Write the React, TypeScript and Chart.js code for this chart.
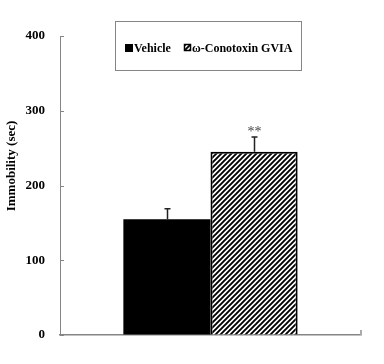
import React, { useEffect, useRef } from "react";
import { Chart, registerables } from "chart.js";

Chart.register(...registerables);

const categories = [""];
const seriesLabels = ["Vehicle", "ω-Conotoxin GVIA"];
const vehicleValues = [155];
const conotoxinValues = [245];
const errorValues = [14, 20];
const significance = ["", "**"];
const yTicks = [0, 100, 200, 300, 400];
const yTitle = "Immobility (sec)";

const FONT = "'Liberation Serif', 'Times New Roman', serif";
const AXIS = "#858585";

function makeHatch(): CanvasPattern | string {
  const s = 5;
  const c = document.createElement("canvas");
  c.width = s;
  c.height = s;
  const g = c.getContext("2d");
  if (!g) return "#fff";
  g.fillStyle = "#fff";
  g.fillRect(0, 0, s, s);
  g.strokeStyle = "#000";
  g.lineWidth = 1.9;
  g.beginPath();
  g.moveTo(-1, s + 1);
  g.lineTo(s + 1, -1);
  g.moveTo(-1, 1);
  g.lineTo(1, -1);
  g.moveTo(s - 1, s + 1);
  g.lineTo(s + 1, s - 1);
  g.stroke();
  const p = g.createPattern(c, "repeat");
  return p || "#fff";
}

export default function App() {
  const ref = useRef<HTMLCanvasElement>(null);

  useEffect(() => {
    if (!ref.current) return;
    const hatch = makeHatch();

    const decor = {
      id: "decor",
      afterDatasetsDraw(chart: any) {
        const ctx = chart.ctx;
        const y = chart.scales.y;
        const area = chart.chartArea;
        ctx.save();
        // inward y ticks
        ctx.strokeStyle = AXIS;
        ctx.lineWidth = 1;
        yTicks.forEach((v) => {
          const py = Math.round(y.getPixelForValue(v)) + 0.5;
          ctx.beginPath();
          ctx.moveTo(area.left, py);
          ctx.lineTo(area.left + 4, py);
          ctx.stroke();
        });
        // right end tick on x axis
        ctx.strokeStyle = "#aaa";
        ctx.lineWidth = 2;
        ctx.beginPath();
        ctx.moveTo(area.right, area.bottom);
        ctx.lineTo(area.right, area.bottom - 5);
        ctx.stroke();

        // error bars and significance
        chart.data.datasets.forEach((ds: any, i: number) => {
          const meta = chart.getDatasetMeta(i);
          meta.data.forEach((bar: any, j: number) => {
            const val = ds.data[j];
            const top = y.getPixelForValue(val);
            const et = y.getPixelForValue(val + errorValues[i]);
            const cx = Math.round(bar.x) + 0.5;
            ctx.strokeStyle = "#222";
            ctx.lineWidth = 1.5;
            ctx.beginPath();
            ctx.moveTo(cx, top);
            ctx.lineTo(cx, et);
            ctx.moveTo(cx - 3, et);
            ctx.lineTo(cx + 3, et);
            ctx.stroke();
            if (significance[i]) {
              ctx.fillStyle = "#444";
              ctx.font = `14px ${FONT}`;
              ctx.textAlign = "center";
              ctx.textBaseline = "alphabetic";
              ctx.fillText(significance[i], cx, et - 1);
            }
          });
        });

        // legend
        const lx = 115, ly = 21, lw = 186, lh = 49;
        ctx.strokeStyle = AXIS;
        ctx.lineWidth = 1;
        ctx.fillStyle = "#fff";
        ctx.fillRect(lx, ly, lw, lh);
        ctx.strokeRect(lx + 0.5, ly + 0.5, lw, lh);
        ctx.font = `bold 12px ${FONT}`;
        ctx.textAlign = "left";
        ctx.textBaseline = "alphabetic";
        const baseline = 52;
        ctx.fillStyle = "#000";
        ctx.fillRect(125, 44, 8, 8);
        ctx.fillText(seriesLabels[0], 134, baseline);
        ctx.fillStyle = hatch as any;
        ctx.fillRect(184, 44, 7, 7);
        ctx.strokeStyle = "#000";
        ctx.lineWidth = 1.5;
        ctx.strokeRect(184.5, 44.5, 6, 6);
        ctx.fillStyle = "#000";
        ctx.fillText(seriesLabels[1], 192, baseline);

        // y title
        ctx.save();
        ctx.translate(12, 166);
        ctx.rotate(-Math.PI / 2);
        ctx.textAlign = "center";
        ctx.textBaseline = "middle";
        ctx.font = `bold 13px ${FONT}`;
        ctx.fillStyle = "#000";
        ctx.fillText(yTitle, 0, 0);
        ctx.restore();

        ctx.restore();
      },
    };

    const chart = new Chart(ref.current, {
      type: "bar",
      data: {
        labels: categories,
        datasets: [
          {
            label: seriesLabels[0],
            data: vehicleValues,
            backgroundColor: "#000",
            borderColor: "#000",
            borderWidth: 0,
            categoryPercentage: 0.579,
            barPercentage: 1.0,
          },
          {
            label: seriesLabels[1],
            data: conotoxinValues,
            backgroundColor: hatch as any,
            borderColor: "#000",
            borderWidth: 2,
            categoryPercentage: 0.579,
            barPercentage: 1.0,
          },
        ],
      },
      options: {
        responsive: false,
        animation: false,
        layout: { padding: { left: 0, right: 23, top: 36, bottom: 29 } },
        plugins: {
          legend: { display: false },
          tooltip: { enabled: false },
          title: { display: false },
        },
        scales: {
          x: {
            display: true,
            ticks: { display: false },
            grid: { display: false },
            border: { display: true, color: AXIS, width: 1.5 },
            afterFit(scale: any) {
              scale.height = 0;
            },
          },
          y: {
            min: 0,
            max: 400,
            ticks: {
              stepSize: 100,
              padding: 15,
              color: "#000",
              font: { family: FONT, size: 13, weight: "bold" },
            },
            grid: { drawOnChartArea: false, drawTicks: false },
            border: { display: true, color: AXIS, width: 1 },
            afterFit(scale: any) {
              scale.width = 60;
            },
          },
        },
      },
      plugins: [decor],
    });
    return () => chart.destroy();
  }, []);

  return (
    <div style={{ position: "fixed", left: 0, top: 0, width: 384, height: 364, background: "#fff" }}>
      <canvas ref={ref} width={384} height={364} />
    </div>
  );
}
